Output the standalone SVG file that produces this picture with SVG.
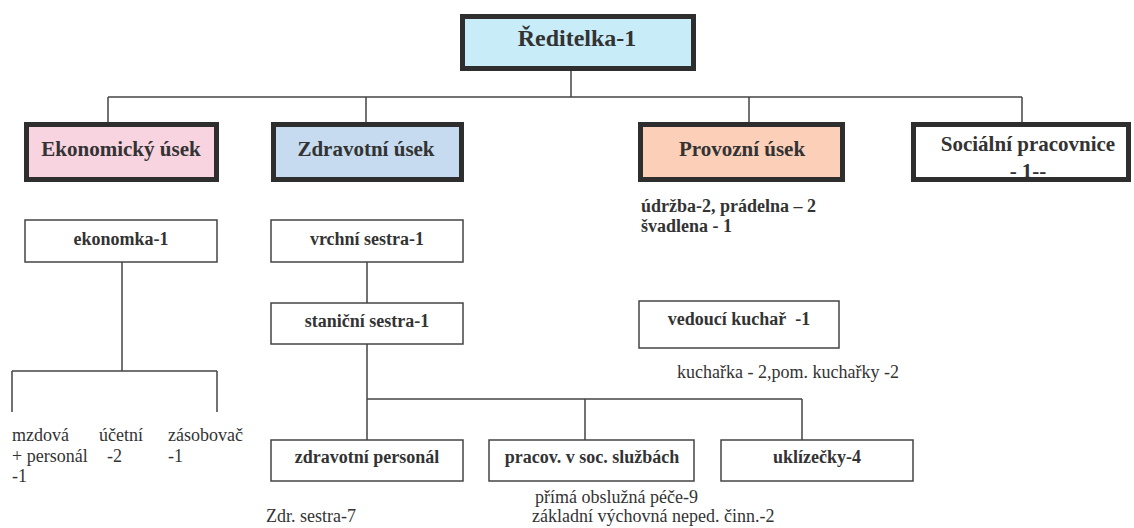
<svg xmlns="http://www.w3.org/2000/svg" width="1134" height="528" viewBox="0 0 1134 528">
<style>
.bg{fill:#ffffff}
.l2{stroke:#2e2e2e;stroke-width:5}
.l3{fill:#ffffff;stroke:#444444;stroke-width:1.5}
.conn{stroke:#444444;stroke-width:1.5;fill:none}
.t{fill:#333333}
.b{font-weight:bold;font-size:18px;text-anchor:middle}
.h{font-weight:bold;font-size:21px;text-anchor:middle}
.n{font-size:18px}
.bl{font-weight:bold;font-size:18px}
</style>
<rect class="bg" x="0" y="0" width="1134" height="528"/>
<g id="connectors">
<path class="conn" d="M571,71 V97 M108,97 H1022 M108,97 V122 M366,97 V122 M749,97 V122 M1022,97 V122"/>
<path class="conn" d="M122,262 V371 M12,371 H217 M12,371 V412 M217,371 V412"/>
<path class="conn" d="M367,262 V303 M367,344 V440 M367,399 H802 M585,399 V440 M802,399 V440"/>
</g>
<g font-family="'Liberation Serif', 'DejaVu Serif', 'Times New Roman', serif" class="t">
<g id="reditelka">
<rect class="l2" x="462.5" y="16.5" width="231" height="52" fill="#c9ecf9"/>
<text x="577" y="46" font-weight="bold" font-size="24" text-anchor="middle">Ředitelka-1</text>
</g>
<g id="ekonomicky">
<rect class="l2" x="26.5" y="124.5" width="190" height="55" fill="#f8d3e0"/>
<text class="h" x="121" y="156">Ekonomický úsek</text>
</g>
<g id="zdravotni">
<rect class="l2" x="273.5" y="124.5" width="188" height="55" fill="#c6dbf0"/>
<text class="h" x="366" y="156">Zdravotní úsek</text>
</g>
<g id="provozni">
<rect class="l2" x="640.5" y="124.5" width="202" height="55" fill="#fbcfb8"/>
<text class="h" x="742" y="156">Provozní úsek</text>
<text class="bl" x="641" y="212">údržba-2, prádelna – 2</text>
<text class="bl" x="641" y="232">švadlena - 1</text>
</g>
<g id="socialni">
<rect x="913.5" y="124.5" width="215" height="55" fill="#ffffff"/>
<text class="h" x="1028" y="151">Sociální pracovnice</text>
<text class="h" x="1028" y="178">- 1--</text>
<rect class="l2" x="913.5" y="124.5" width="215" height="55" fill="none"/>
</g>
<g id="ekonomka">
<rect class="l3" x="25" y="220" width="192" height="42"/>
<text class="b" x="121" y="245">ekonomka-1</text>
<text class="n" x="12" y="441">mzdová</text>
<text class="n" x="12" y="462">+ personál</text>
<text class="n" x="12" y="482">-1</text>
<text class="n" x="99" y="441">účetní</text>
<text class="n" x="107" y="462">-2</text>
<text class="n" x="168" y="441">zásobovač</text>
<text class="n" x="168" y="462">-1</text>
</g>
<g id="vrchni">
<rect class="l3" x="271" y="220" width="192" height="42"/>
<text class="b" x="367" y="245">vrchní sestra-1</text>
</g>
<g id="stanicni">
<rect class="l3" x="271" y="303" width="192" height="41"/>
<text class="b" x="367" y="327">staniční sestra-1</text>
</g>
<g id="kuchar">
<rect class="l3" x="639" y="301" width="200" height="47"/>
<text class="b" x="739" y="325" xml:space="preserve">vedoucí kuchař  -1</text>
<text class="n" x="677" y="378">kuchařka - 2,pom. kuchařky -2</text>
</g>
<g id="zdrav-personal">
<rect class="l3" x="271" y="440" width="192" height="41"/>
<text class="b" x="367" y="463">zdravotní personál</text>
<text class="n" x="266" y="522">Zdr. sestra-7</text>
</g>
<g id="pracov">
<rect class="l3" x="489" y="440" width="205" height="41"/>
<text class="b" x="592" y="463">pracov. v soc. službách</text>
<text class="n" x="535" y="503">přímá obslužná péče-9</text>
<text class="n" x="532" y="522">základní výchovná neped. činn.-2</text>
</g>
<g id="uklizecky">
<rect class="l3" x="721" y="440" width="192" height="41"/>
<text class="b" x="817" y="463">uklízečky-4</text>
</g>
</g>
</svg>
